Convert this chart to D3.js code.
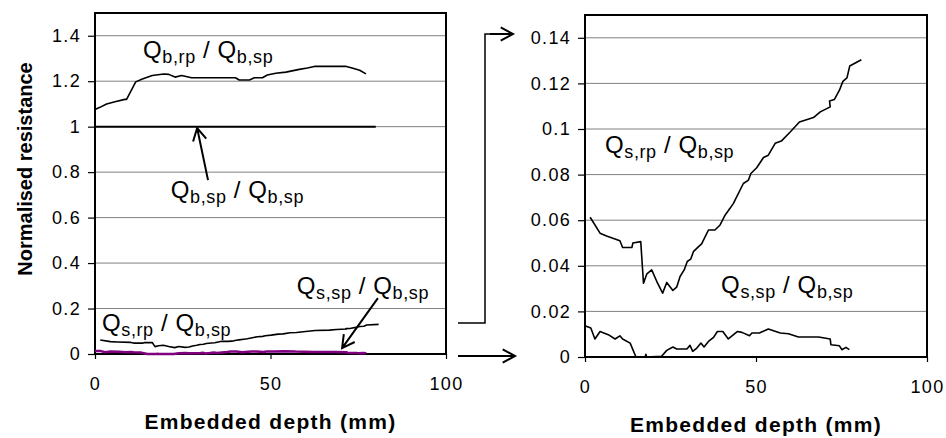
<html>
  <head>
    <meta charset="utf-8">
    <title>Normalised resistance</title>
    <style>
      body { margin: 0; background: #fff; }
      text { font-family: "Liberation Sans", Arial, sans-serif; fill: #000; }
      .grid line { stroke: #808080; stroke-width: 1; }
      .tick text { font-size: 18px; letter-spacing: 1.3px; }
      .axtitle { font-size: 20px; font-weight: bold; }
      .lbl { font-size: 24px; letter-spacing: 0.6px; }
      .lbl .sub { font-size: 18px; }
    </style>
    <script src="https://d3js.org/d3.v7.min.js"></script>
  </head>
  <body>
    <svg id="chart" width="946" height="438"></svg>
    <script>
      // Q_b,rp / Q_b,sp
      var depthBrp = [0, 1.4, 3.3, 5.7, 8.5, 9.0, 11.6, 13.5, 16.3, 19.6, 21, 22.8, 24.7, 27.5, 40, 41.1, 44, 45.4,
                      47.7, 49.1, 51.5, 54.4, 58.2, 60.5, 62.5, 71.6, 73.5, 75.4, 77.2]
      var ratioBrp = [1.076, 1.085, 1.10, 1.11, 1.12, 1.12, 1.197, 1.21, 1.225, 1.232, 1.23, 1.218, 1.225, 1.215, 1.215,
                      1.205, 1.205, 1.215, 1.215, 1.227, 1.235, 1.24, 1.252, 1.258, 1.265, 1.265, 1.257, 1.248, 1.232]

      // Q_b,sp / Q_b,sp
      var depthBsp = [0, 80]
      var ratioBsp = [1, 1]

      // Q_s,rp / Q_b,sp
      var depthSrp = [1.5, 4.4, 6.3, 10.2, 11.0, 13.7, 14.0, 16.3, 17.1, 18.1, 19.5, 21.0, 22.7, 23.9, 25.7, 26.8,
                      27.8, 29.0, 29.9, 30.9, 31.7, 33.2, 34.1, 36.1, 38.0, 39.5, 41.0, 42.4, 43.4, 46.3, 47.8, 48.5,
                      50.2, 52.2, 53.6, 55.6, 57.4, 60.0, 62.7, 66.8, 68.8, 71.7, 71.5, 72.9, 74.4, 75.4, 76.6, 77.4, 80.8]
      var ratioSrp = [0.0613, 0.0543, 0.0531, 0.051, 0.048, 0.048, 0.050, 0.0506, 0.0324, 0.0365, 0.0382, 0.0331,
                      0.028, 0.0327, 0.0292, 0.0306, 0.0353, 0.0382, 0.0419, 0.0429, 0.0462, 0.0484, 0.0496, 0.0557,
                      0.0557, 0.0579, 0.0623, 0.0652, 0.0674, 0.0761, 0.0776, 0.0805, 0.083, 0.0875, 0.0885, 0.0937,
                      0.0947, 0.0987, 0.1031, 0.105, 0.1075, 0.1097, 0.1123, 0.1129, 0.117, 0.1209, 0.1224, 0.1276, 0.1304]

      // Q_s,sp / Q_b,sp
      var depthSsp = [0, 1.7, 2.9, 4.4, 6.8, 8.8, 10.2, 11.0, 13.2, 14.9, 17.6, 17.8, 18.0, 22.4, 23.9, 25.7, 26.8,
                      29.8, 30.7, 31.5, 32.7, 33.9, 34.8, 36.1, 37.6, 38.7, 40.3, 41.9, 44.6, 45.9, 48.1, 48.8, 51.0,
                      53.6, 57.1, 59.5, 62.4, 68.3, 71.7, 71.9, 74.4, 75.1, 76.3, 77.3]
      var ratioSsp = [0.0137, 0.0127, 0.0079, 0.0112, 0.0098, 0.0079, 0.0093, 0.0079, 0.0061, 0, 0, 0.0012, 0, 0.0003,
                      0.0029, 0.0044, 0.0035, 0.0035, 0.0051, 0.0025, 0.0039, 0.0061, 0.0044, 0.0068, 0.0086, 0.0112,
                      0.0112, 0.0079, 0.0112, 0.0108, 0.0093, 0.0105, 0.0105, 0.0123, 0.0105, 0.0102, 0.0088, 0.0088,
                      0.0079, 0.0054, 0.0049, 0.0032, 0.0042, 0.0032]

      var xTicks = [0, 50, 100]
      var yTicksLeft = [0, 0.2, 0.4, 0.6, 0.8, 1, 1.2, 1.4]
      var yTicksRight = [0, 0.02, 0.04, 0.06, 0.08, 0.1, 0.12, 0.14]

      var xTitle = "Embedded depth (mm)"
      var yTitle = "Normalised resistance"

      function zip(xs, ys){ return xs.map((x, i) => [x, ys[i]]) }

      var svg = d3.select("#chart")

      // builds one panel: frame, grid, axes, returns its scales
      function panel(box, yMax, yTicks){
        var x = d3.scaleLinear().domain([0, 100]).range([box.left, box.right])
        var y = d3.scaleLinear().domain([0, yMax]).range([box.bottom, box.top])
        var g = svg.append("g")

        g.append("g").attr("class", "grid")
         .selectAll("line")
         .data(yTicks.filter(d => d > 0))
         .join("line")
         .attr("x1", box.left).attr("x2", box.right)
         .attr("y1", d => y(d)).attr("y2", d => y(d))

        var ya = g.append("g")
                  .attr("transform", "translate(" + box.left + ",0)")
                  .call(d3.axisLeft(y).tickValues(yTicks).tickSize(7).tickPadding(7).tickFormat(d => String(d)))
        ya.select(".domain").remove()
        ya.selectAll(".tick line").attr("stroke", "#000").attr("stroke-width", 1.2)

        var xa = g.append("g")
                  .attr("transform", "translate(0," + box.bottom + ")")
                  .call(d3.axisBottom(x).tickValues(xTicks).tickSize(5).tickPadding(18).tickFormat(d => String(d)))
        xa.select(".domain").remove()
        xa.selectAll(".tick line").attr("stroke", "#000").attr("stroke-width", 1.2)

        g.append("rect")
         .attr("x", box.left).attr("y", box.top)
         .attr("width", box.right - box.left).attr("height", box.bottom - box.top)
         .attr("fill", "none").attr("stroke", "#000").attr("stroke-width", 2)

        g.append("text").attr("class", "axtitle")
         .attr("x", (box.left + box.right) / 2).attr("y", box.bottom + 75)
         .attr("text-anchor", "middle")
         .style("font-size", "21px")
         .style("letter-spacing", "1.3px")
         .text(xTitle)

        return {x: x, y: y, g: g}
      }

      function series(p, xs, ys, colour, width){
        var line = d3.line().x(d => p.x(d[0])).y(d => p.y(d[1]))
        p.g.append("path")
         .datum(zip(xs, ys))
         .attr("d", line)
         .attr("fill", "none")
         .attr("stroke", colour)
         .attr("stroke-width", width)
         .attr("stroke-linejoin", "round")
      }

      // Q label with subscripts: "Q_a / Q_b"
      function qlabel(p, xv, yv, subA, subB){
        var t = p.g.append("text").attr("class", "lbl")
                   .attr("x", p.x(xv)).attr("y", p.y(yv))
        t.append("tspan").text("Q")
        t.append("tspan").attr("class", "sub").attr("dy", 5).text(subA)
        t.append("tspan").attr("dy", -5).text(" / Q")
        t.append("tspan").attr("class", "sub").attr("dy", 5).text(subB)
      }

      // straight line with an open arrow head at (x2, y2)
      function arrow(x1, y1, x2, y2, head, width){
        var a = Math.atan2(y2 - y1, x2 - x1)
        var w = 0.5
        var path = "M" + x1 + "," + y1 + "L" + x2 + "," + y2 +
                   "M" + (x2 - head * Math.cos(a - w)) + "," + (y2 - head * Math.sin(a - w)) +
                   "L" + x2 + "," + y2 +
                   "L" + (x2 - head * Math.cos(a + w)) + "," + (y2 - head * Math.sin(a + w))
        svg.append("path").attr("d", path)
           .attr("fill", "none").attr("stroke", "#000")
           .attr("stroke-width", width)
      }

      var left = panel({left: 95, right: 446, top: 13, bottom: 354}, 1.5, yTicksLeft)
      var right = panel({left: 585, right: 927, top: 15, bottom: 357}, 0.15, yTicksRight)

      svg.append("text").attr("class", "axtitle")
         .attr("transform", "translate(32,169) rotate(-90)")
         .attr("text-anchor", "middle")
         .text(yTitle)

      // left panel
      series(left, depthBsp, ratioBsp, "#000", 2)
      series(left, depthBrp, ratioBrp, "#000", 1.6)
      series(left, depthSrp, ratioSrp, "#000", 1.6)
      series(left, depthSsp, ratioSsp, "#800080", 2.5)

      qlabel(left, 13.7, 1.302, "b,rp", "b,sp")
      qlabel(left, 21.6, 0.686, "b,sp", "b,sp")
      qlabel(left, 2.0, 0.101, "s,rp", "b,sp")
      qlabel(left, 57.5, 0.264, "s,sp", "b,sp")

      arrow(left.x(32.2), left.y(0.765), left.x(29.1), left.y(0.994), 14, 2)
      arrow(left.x(80.6), left.y(0.246), left.x(70.4), left.y(0.026), 14, 2)

      // right panel
      series(right, depthSrp, ratioSrp, "#000", 1.6)
      series(right, depthSsp, ratioSsp, "#000", 1.6)

      qlabel(right, 5.85, 0.0894, "s,rp", "b,sp")
      qlabel(right, 39.8, 0.028, "s,sp", "b,sp")

      // connectors between the panels
      svg.append("path").attr("d", "M458,323H485V34H500")
         .attr("fill", "none").attr("stroke", "#000").attr("stroke-width", 1.5)
      arrow(490, 34, 513, 34, 14, 2)
      arrow(458, 356, 515, 356, 14, 2)
    </script>
  </body>
</html>
